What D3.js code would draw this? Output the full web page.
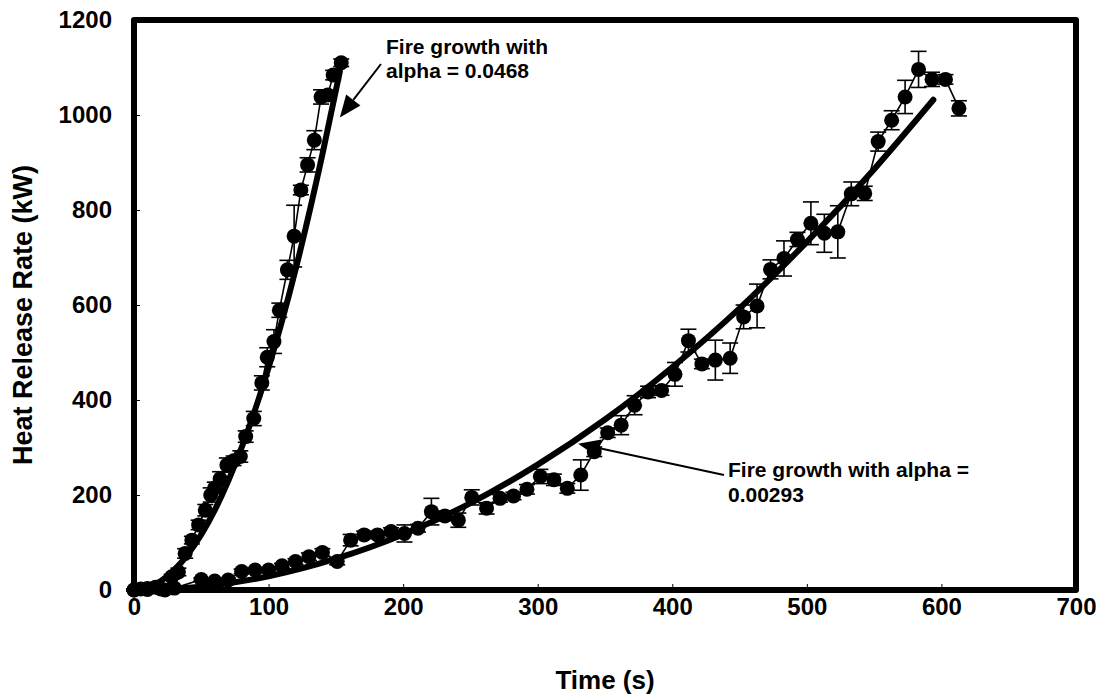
<!DOCTYPE html>
<html>
  <head>
    <meta http-equiv="Content-Type" content="text/html;charset=utf-8">
    <title>Heat Release Rate</title>
    <script src="https://d3js.org/d3.v7.min.js"></script>
    <style type="text/css">
body {
    margin: 0;
    background: #fff;
}
text {
    font-family: Arial, "Liberation Sans", sans-serif;
    font-weight: bold;
    fill: #000;
}
.tick line {
    stroke: #000;
    stroke-width: 1px;
}
.tick text {
    font-size: 24px;
}
.bar, .conn {
    stroke: #000;
    stroke-width: 1.6px;
    fill: none;
}
.fit {
    stroke: #000;
    stroke-width: 6px;
    fill: none;
    stroke-linecap: round;
}
circle {
    fill: #000;
}
    </style>
  </head>
  <body>
    <script type="text/javascript">
// fast test (alpha = 0.0468)
var fastTime = [0, 5, 10, 16, 23, 28, 33, 38, 43, 48, 53, 57, 60, 64, 69, 74,
                79, 83, 89, 95, 99, 104, 108, 114, 119, 124, 129, 134, 139, 144, 148, 154];
var fastHrr  = [0, 2, 3, 6, 0, 28, 38, 77, 105, 137, 168, 200, 215, 234, 263, 272,
                281, 323, 361, 436, 490, 523, 589, 674, 745, 842, 895, 947, 1038, 1042, 1084, 1110];
var fastErr  = [2, 2, 2, 3, 3, 5, 8, 10, 8, 10, 12, 15, 12, 15, 15, 10,
                12, 12, 15, 15, 20, 25, 15, 20, 65, 10, 15, 20, 15, 10, 10, 8];

// slow test (alpha = 0.00293)
var slowTime = [0, 10, 20, 30, 50, 60, 70, 80, 90, 100, 110, 120, 130, 140, 151, 161,
                171, 181, 191, 201, 211, 221, 231, 241, 251, 262, 272, 282, 292, 302, 312, 322,
                332, 342, 352, 362, 372, 382, 392, 402, 412, 422, 432, 443, 453, 463, 473, 483,
                493, 503, 513, 523, 533, 543, 553, 563, 573, 583, 593, 603, 613];
var slowHrr  = [0, 1, 2, 4, 22, 19, 21, 39, 42, 42, 51, 60, 70, 79, 60, 105,
                116, 116, 123, 119, 130, 165, 156, 147, 195, 172, 193, 198, 212, 239, 232, 214,
                242, 291, 331, 347, 389, 417, 420, 454, 525, 476, 484, 488, 575, 598, 675, 698,
                738, 772, 751, 754, 834, 835, 944, 989, 1038, 1096, 1075, 1075, 1014];
var slowErr  = [2, 2, 2, 3, 3, 3, 4, 5, 4, 5, 5, 6, 8, 8, 7, 12,
                8, 6, 8, 18, 8, 28, 10, 15, 16, 12, 8, 8, 10, 15, 12, 10,
                32, 10, 10, 20, 20, 12, 10, 25, 24, 10, 42, 32, 25, 46, 20, 37,
                15, 45, 40, 55, 25, 15, 20, 20, 35, 38, 15, 10, 16];

// fitted t-squared curves
var fastFitTime = [0, 20, 40, 60, 80, 100, 120, 140, 153];
var fastFitHrr  = [0, 19, 75, 168, 300, 468, 674, 917, 1092];
var slowFitTime = [0, 50, 100, 150, 200, 250, 300, 350, 400, 450, 500, 550, 594];
var slowFitHrr  = [0, 7, 29, 66, 117, 183, 264, 359, 469, 593, 733, 886, 1032];

var xTicks = [0, 100, 200, 300, 400, 500, 600, 700],
    yTicks = [0, 200, 400, 600, 800, 1000, 1200];

var w = 1105,
    h = 698,
    plotL = 134,
    plotR = 1076,
    plotT = 20,
    plotB = 590,
    capW = 8,
    r = 7.5;

var x = d3.scaleLinear().domain([0, 700]).range([plotL, plotR]),
    y = d3.scaleLinear().domain([0, 1200]).range([plotB, plotT]);

var svg = d3.select('body').append('svg')
    .attr('width', w)
    .attr('height', h);

// axes, ticks pointing inward
svg.append('g')
    .attr('transform', 'translate(' + plotL + ',0)')
    .call(d3.axisLeft(y).tickValues(yTicks).tickFormat(d3.format('d')).tickSize(-6).tickPadding(22))
    .call(function(g) { g.select('.domain').remove(); });

svg.append('g')
    .attr('transform', 'translate(0,' + plotB + ')')
    .call(d3.axisBottom(x).tickValues(xTicks).tickFormat(d3.format('d')).tickSize(-6).tickPadding(8))
    .call(function(g) { g.select('.domain').remove(); });

svg.selectAll('.tick text')
    .attr('font-family', null)
    .attr('font-size', null);

// series
function zip(t, v, e) {
    return t.map(function(d, i) { return {t: d, v: v[i], e: e ? e[i] : 0}; });
}

var line = d3.line()
    .x(function(d) { return x(d.t); })
    .y(function(d) { return y(d.v); });

var fitLine = d3.line()
    .x(function(d) { return x(d.t); })
    .y(function(d) { return y(d.v); })
    .curve(d3.curveMonotoneX);

function drawSeries(data) {
    var g = svg.append('g');

    var bars = g.selectAll('g.err')
        .data(data)
      .enter().append('g')
        .attr('class', 'err');

    bars.append('line')
        .attr('class', 'bar')
        .attr('x1', function(d) { return x(d.t); })
        .attr('x2', function(d) { return x(d.t); })
        .attr('y1', function(d) { return y(d.v - d.e); })
        .attr('y2', function(d) { return y(d.v + d.e); });

    [-1, 1].forEach(function(s) {
        bars.append('line')
            .attr('class', 'bar')
            .attr('x1', function(d) { return x(d.t) - capW; })
            .attr('x2', function(d) { return x(d.t) + capW; })
            .attr('y1', function(d) { return y(d.v + s * d.e); })
            .attr('y2', function(d) { return y(d.v + s * d.e); });
    });

    g.append('path')
        .datum(data)
        .attr('class', 'conn')
        .attr('d', line);

    g.selectAll('circle')
        .data(data)
      .enter().append('circle')
        .attr('cx', function(d) { return x(d.t); })
        .attr('cy', function(d) { return y(d.v); })
        .attr('r', r);
}

drawSeries(zip(slowTime, slowHrr, slowErr));
drawSeries(zip(fastTime, fastHrr, fastErr));

svg.append('path')
    .datum(zip(fastFitTime, fastFitHrr))
    .attr('class', 'fit')
    .attr('d', fitLine);

svg.append('path')
    .datum(zip(slowFitTime, slowFitHrr))
    .attr('class', 'fit')
    .attr('d', fitLine);

// frame
svg.append('rect')
    .attr('x', plotL)
    .attr('y', plotT)
    .attr('width', plotR - plotL)
    .attr('height', plotB - plotT)
    .attr('fill', 'none')
    .attr('stroke', '#000')
    .attr('stroke-width', 6)
    .attr('stroke-linejoin', 'round');

// axis titles
svg.append('text')
    .attr('x', (plotL + plotR) / 2)
    .attr('y', 689)
    .attr('text-anchor', 'middle')
    .attr('font-size', 26)
    .text('Time (s)');

svg.append('text')
    .attr('transform', 'translate(32,' + ((plotT + plotB) / 2 + 10) + ') rotate(-90)')
    .attr('text-anchor', 'middle')
    .attr('font-size', 27)
    .text('Heat Release Rate (kW)');

// annotations
function arrow(x1, y1, x2, y2) {
    var a = Math.atan2(y2 - y1, x2 - x1),
        len = 22,
        half = 9,
        bx = x2 - len * Math.cos(a),
        by = y2 - len * Math.sin(a);
    svg.append('line')
        .attr('x1', x1).attr('y1', y1)
        .attr('x2', bx).attr('y2', by)
        .attr('stroke', '#000')
        .attr('stroke-width', 2);
    svg.append('path')
        .attr('d', 'M' + x2 + ',' + y2 +
            'L' + (bx - half * Math.sin(a)) + ',' + (by + half * Math.cos(a)) +
            'L' + (bx + half * Math.sin(a)) + ',' + (by - half * Math.cos(a)) + 'Z')
        .attr('fill', '#000');
}

arrow(381, 64, x(153), y(995));
arrow(724, 475, x(330), y(308));

var note1 = svg.append('text')
    .attr('font-size', 21);
note1.append('tspan').attr('x', 386).attr('y', 54).text('Fire growth with');
note1.append('tspan').attr('x', 386).attr('y', 78).text('alpha = 0.0468');

var note2 = svg.append('text')
    .attr('font-size', 21);
note2.append('tspan').attr('x', 728).attr('y', 477).text('Fire growth with alpha =');
note2.append('tspan').attr('x', 728).attr('y', 502).text('0.00293');
    </script>
  </body>
</html>
